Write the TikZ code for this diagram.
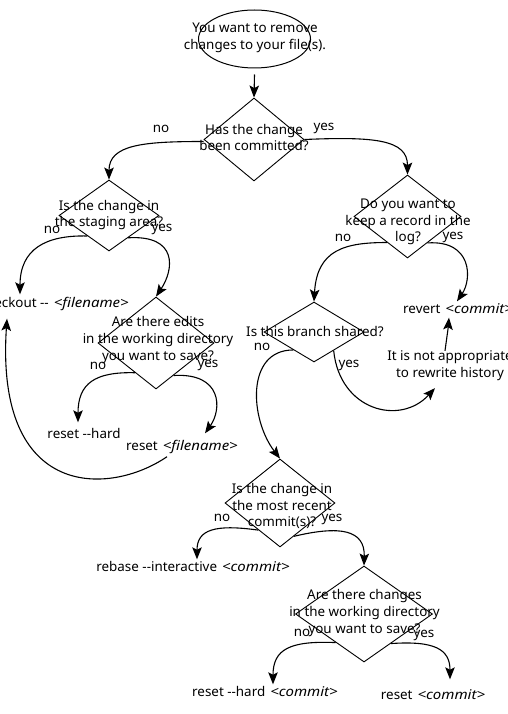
\documentclass[tikz,border=0pt]{standalone}
\usepackage{fontspec}
\setmainfont{Noto Sans}[ItalicFeatures={FakeStretch=1.12}]
\usetikzlibrary{shapes.geometric,arrows.meta,calc}
\newcommand\ddash{-\kern0pt-}
\newcommand\cmdgap{\hspace{5pt}}
\begin{document}
\begin{tikzpicture}[x=1pt,y=-1pt,
  txt/.style={inner sep=0pt, align=center, font=\fontsize{13.4}{16.8}\selectfont},
  leaf/.style={inner sep=0pt, text height=10pt, text depth=3pt, font=\fontsize{13.4}{16.8}\selectfont},
  lbl/.style={inner sep=0pt, font=\fontsize{13.4}{15}\selectfont},
  dia/.style={diamond, draw, line width=0.9pt, inner sep=0pt, aspect=1},
  arr/.style={-{Stealth[length=12pt,width=9.5pt,inset=2.5pt]}, line width=1.1pt},
]
\useasboundingbox (0,0) rectangle (507,714);
% start
\node[ellipse, draw, line width=1pt, inner sep=0pt, minimum width=112pt, minimum height=58pt] (e0) at (254.5,39) {};
\node[txt] (e0t) at (255,38) {You want to remove\\changes to your file(s).};
% diamonds
\node[dia, minimum width=100pt, minimum height=83pt] (d1) at (254,139.5) {};
\node[txt] (d1t) at (254,137.5) {Has the change\\been committed?};
\node[dia, minimum width=100pt, minimum height=71pt] (d2) at (109,215.5) {};
\node[txt] (d2t) at (109,215) {Is the change in\\the staging area?};
\node[dia, minimum width=116pt, minimum height=92pt] (d3) at (156,343) {};
\node[txt] (d3t) at (158,340) {Are there edits\\in the working directory\\you want to save?};
\node[dia, minimum width=107pt, minimum height=83pt] (d4) at (407.5,216.5) {};
\node[txt] (d4t) at (408,222) {Do you want to\\keep a record in the\\log?};
\node[dia, minimum width=100pt, minimum height=60pt] (d5) at (314,332) {};
\node[txt] (d5t) at (315,331) {Is this branch shared?};
\node[dia, minimum width=110pt, minimum height=88pt] (d6) at (280,503) {};
\node[txt] (d6t) at (282,506) {Is the change in\\the most recent\\commit(s)?};
\node[dia, minimum width=137pt, minimum height=96pt] (d7) at (364,614) {};
\node[txt] (d7t) at (364.5,613) {Are there changes\\in the working directory\\you want to save?};
% leaves
\node[leaf, anchor=east] (co) at (129,304) {checkout \ddash\cmdgap\textit{<filename>}};
\node[leaf] (rh1) at (84,435) {reset \ddash hard};
\node[leaf] (rf) at (182,447) {reset\cmdgap\textit{<filename>}};
\node[leaf, anchor=west] (rv) at (403,310) {revert\cmdgap\textit{<commit>}};
\node[txt] (na) at (450,366) {It is not appropriate\\to rewrite history};
\node[leaf] (rb) at (193,568) {rebase \ddash interactive\cmdgap\textit{<commit>}};
\node[leaf] (rh2) at (265,693) {reset \ddash hard\cmdgap\textit{<commit>}};
\node[leaf] (rc) at (433,696) {reset\cmdgap\textit{<commit>}};
\coordinate (coA) at ($(co.north east)+(-109,-3)$);
\coordinate (coB) at ($(co.south east)+(-122,8)$);
% labels
\node[lbl] (l1n) at (161,129) {no};
\node[lbl] (l1y) at (324,128) {yes};
\node[lbl] (l2n) at (52,230) {no};
\node[lbl] (l2y) at (162,229) {yes};
\node[lbl] (l3n) at (98,366) {no};
\node[lbl] (l3y) at (208,365) {yes};
\node[lbl] (l4n) at (343,238) {no};
\node[lbl] (l4y) at (453,237) {yes};
\node[lbl] (l5n) at (262,347) {no};
\node[lbl] (l5y) at (349,365) {yes};
\node[lbl] (l6n) at (222,518) {no};
\node[lbl] (l6y) at (332,519) {yes};
\node[lbl] (l7n) at (302,633) {no};
\node[lbl] (l7y) at (424,635) {yes};
% connectors
\draw[arr] ($(e0.south)+(0,6)$) -- (d1.north);
\draw[arr] ($(d1.west)+(0,2)$) .. controls +(-60,0) and +(0,-35) .. (d2.north);
\draw[arr] (d1.east) .. controls +(70,-3) and +(0,-35) .. (d4.north);
\draw[arr] ($(d2.west)!0.57!(d2.south)$) .. controls +(-42,-1) and +(0,-45) .. (coA);
\draw[arr] ($(d2.east)!0.62!(d2.south)$) .. controls +(50,-3) and +(18,-27) .. (d3.north);
\draw[arr] ($(d3.west)!0.64!(d3.south)$) .. controls +(-40,-1) and +(0,-39) .. ($(rh1.north)+(-6,-6)$);
\draw[arr] ($(d3.east)!0.7!(d3.south)$) .. controls +(49,-3) and +(17,-24) .. ($(rf.north)+(23,-7)$);
\draw[arr] ($(rf.south)+(-15,3)$) .. controls +(-57,39) and +(-12,182) .. (coB);
\draw[arr] ($(d4.west)!0.62!(d4.south)$) .. controls +(-42,0) and +(3,-52) .. (d5.north);
\draw[arr] ($(d4.east)!0.63!(d4.south)$) .. controls +(45,-3) and +(15,-22) .. ($(rv.north west)+(54,-2)$);
\draw[arr] ($(d5.west)!0.59!(d5.south)$) .. controls +(-48,0) and +(-30,-39) .. (d6.north);
\draw[arr] ($(d5.east)!0.61!(d5.south)$) .. controls +(6,60) and +(-35,38) .. ($(na.south)+(-15,7)$);
\draw[arr] ($(na.north)+(-5,0)$) .. controls +(2,-15) and +(-1,12) .. ($(rv.south west)+(46,1)$);
\draw[arr] ($(d6.west)!0.61!(d6.south)$) .. controls +(-43,-6) and +(0,-30) .. ($(rb.north)+(4,-2)$);
\draw[arr] ($(d6.east)!0.75!(d6.south)$) .. controls +(46,-11) and +(1,-36) .. (d7.north);
\draw[arr] ($(d7.west)!0.59!(d7.south)$) .. controls +(-46,-2) and +(0,-35) .. ($(rh2.north)+(8,-2)$);
\draw[arr] ($(d7.east)!0.61!(d7.south)$) .. controls +(44,-3) and +(0,-30) .. ($(rc.north)+(17,-10)$);
\end{tikzpicture}
\end{document}
